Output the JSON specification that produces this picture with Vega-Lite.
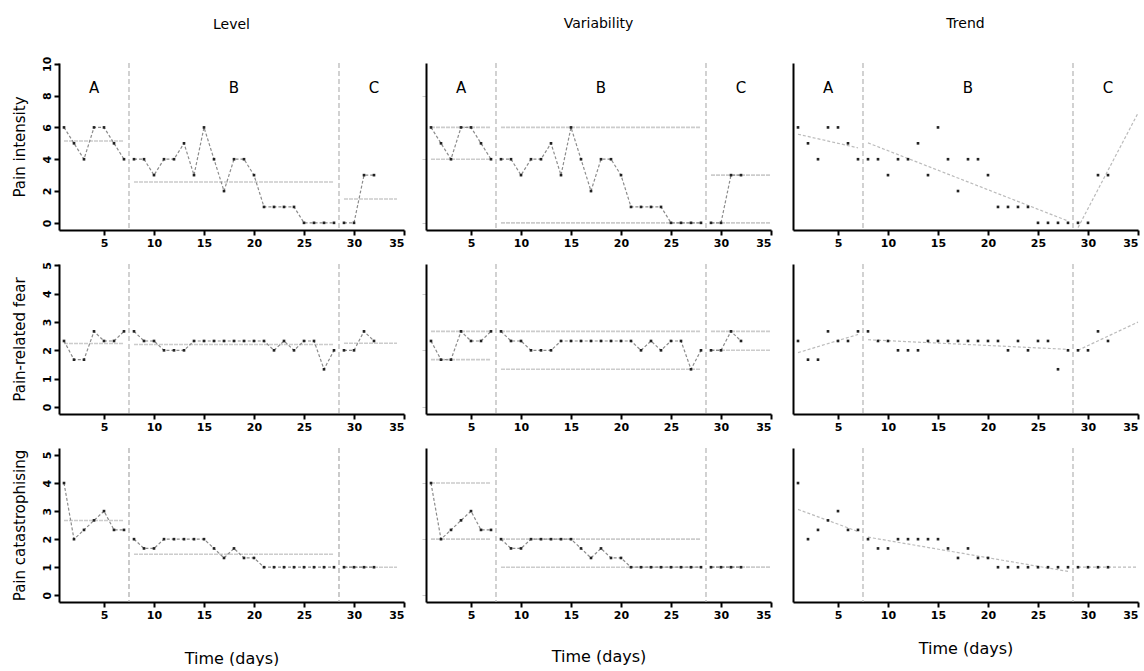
{
"$schema":"https://vega.github.io/schema/vega-lite/v6.json",
"padding":{"left":11,"top":17,"right":0,"bottom":0},
"bounds":"flush",
"columns":3,
"spacing":{"row":34,"column":22},
"config":{"view":{"stroke":null},"font":"DejaVu Sans",
 "axis":{"domainColor":"#000","domainWidth":2,"tickColor":"#000","tickWidth":2,"tickSize":5,"grid":false,"labelFont":"DejaVu Sans","labelFontSize":11,"labelFontWeight":"bold","labelColor":"#000","titleFont":"DejaVu Sans","titleFontSize":15,"titleFontWeight":"normal","titleColor":"#000","labelOverlap":false},
 "title":{"font":"DejaVu Sans","fontSize":14,"fontWeight":"normal","color":"#000","anchor":"middle","offset":31}},
"datasets":{
"changes":[{"x":7.5},{"x":28.5}],
"phases":[{"phase":"A","start":1,"end":7,"lend":7,"mid":4},{"phase":"B","start":8,"end":28,"lend":28,"mid":18},{"phase":"C","start":29,"end":35,"lend":34.3,"mid":32}],
"pts":[
{"m":"int","day":1,"value":6,"phase":"A"},{"m":"int","day":2,"value":5,"phase":"A"},{"m":"int","day":3,"value":4,"phase":"A"},{"m":"int","day":4,"value":6,"phase":"A"},{"m":"int","day":5,"value":6,"phase":"A"},{"m":"int","day":6,"value":5,"phase":"A"},{"m":"int","day":7,"value":4,"phase":"A"},
{"m":"int","day":8,"value":4,"phase":"B"},{"m":"int","day":9,"value":4,"phase":"B"},{"m":"int","day":10,"value":3,"phase":"B"},{"m":"int","day":11,"value":4,"phase":"B"},{"m":"int","day":12,"value":4,"phase":"B"},{"m":"int","day":13,"value":5,"phase":"B"},{"m":"int","day":14,"value":3,"phase":"B"},{"m":"int","day":15,"value":6,"phase":"B"},{"m":"int","day":16,"value":4,"phase":"B"},{"m":"int","day":17,"value":2,"phase":"B"},{"m":"int","day":18,"value":4,"phase":"B"},{"m":"int","day":19,"value":4,"phase":"B"},{"m":"int","day":20,"value":3,"phase":"B"},{"m":"int","day":21,"value":1,"phase":"B"},{"m":"int","day":22,"value":1,"phase":"B"},{"m":"int","day":23,"value":1,"phase":"B"},{"m":"int","day":24,"value":1,"phase":"B"},{"m":"int","day":25,"value":0,"phase":"B"},{"m":"int","day":26,"value":0,"phase":"B"},{"m":"int","day":27,"value":0,"phase":"B"},{"m":"int","day":28,"value":0,"phase":"B"},
{"m":"int","day":29,"value":0,"phase":"C"},{"m":"int","day":30,"value":0,"phase":"C"},{"m":"int","day":31,"value":3,"phase":"C"},{"m":"int","day":32,"value":3,"phase":"C"},
{"m":"fear","day":1,"value":2.33,"phase":"A"},{"m":"fear","day":2,"value":1.67,"phase":"A"},{"m":"fear","day":3,"value":1.67,"phase":"A"},{"m":"fear","day":4,"value":2.67,"phase":"A"},{"m":"fear","day":5,"value":2.33,"phase":"A"},{"m":"fear","day":6,"value":2.33,"phase":"A"},{"m":"fear","day":7,"value":2.67,"phase":"A"},
{"m":"fear","day":8,"value":2.67,"phase":"B"},{"m":"fear","day":9,"value":2.33,"phase":"B"},{"m":"fear","day":10,"value":2.33,"phase":"B"},{"m":"fear","day":11,"value":2,"phase":"B"},{"m":"fear","day":12,"value":2,"phase":"B"},{"m":"fear","day":13,"value":2,"phase":"B"},{"m":"fear","day":14,"value":2.33,"phase":"B"},{"m":"fear","day":15,"value":2.33,"phase":"B"},{"m":"fear","day":16,"value":2.33,"phase":"B"},{"m":"fear","day":17,"value":2.33,"phase":"B"},{"m":"fear","day":18,"value":2.33,"phase":"B"},{"m":"fear","day":19,"value":2.33,"phase":"B"},{"m":"fear","day":20,"value":2.33,"phase":"B"},{"m":"fear","day":21,"value":2.33,"phase":"B"},{"m":"fear","day":22,"value":2,"phase":"B"},{"m":"fear","day":23,"value":2.33,"phase":"B"},{"m":"fear","day":24,"value":2,"phase":"B"},{"m":"fear","day":25,"value":2.33,"phase":"B"},{"m":"fear","day":26,"value":2.33,"phase":"B"},{"m":"fear","day":27,"value":1.33,"phase":"B"},{"m":"fear","day":28,"value":2,"phase":"B"},
{"m":"fear","day":29,"value":2,"phase":"C"},{"m":"fear","day":30,"value":2,"phase":"C"},{"m":"fear","day":31,"value":2.67,"phase":"C"},{"m":"fear","day":32,"value":2.33,"phase":"C"},
{"m":"cat","day":1,"value":4,"phase":"A"},{"m":"cat","day":2,"value":2,"phase":"A"},{"m":"cat","day":3,"value":2.33,"phase":"A"},{"m":"cat","day":4,"value":2.67,"phase":"A"},{"m":"cat","day":5,"value":3,"phase":"A"},{"m":"cat","day":6,"value":2.33,"phase":"A"},{"m":"cat","day":7,"value":2.33,"phase":"A"},
{"m":"cat","day":8,"value":2,"phase":"B"},{"m":"cat","day":9,"value":1.67,"phase":"B"},{"m":"cat","day":10,"value":1.67,"phase":"B"},{"m":"cat","day":11,"value":2,"phase":"B"},{"m":"cat","day":12,"value":2,"phase":"B"},{"m":"cat","day":13,"value":2,"phase":"B"},{"m":"cat","day":14,"value":2,"phase":"B"},{"m":"cat","day":15,"value":2,"phase":"B"},{"m":"cat","day":16,"value":1.67,"phase":"B"},{"m":"cat","day":17,"value":1.33,"phase":"B"},{"m":"cat","day":18,"value":1.67,"phase":"B"},{"m":"cat","day":19,"value":1.33,"phase":"B"},{"m":"cat","day":20,"value":1.33,"phase":"B"},{"m":"cat","day":21,"value":1,"phase":"B"},{"m":"cat","day":22,"value":1,"phase":"B"},{"m":"cat","day":23,"value":1,"phase":"B"},{"m":"cat","day":24,"value":1,"phase":"B"},{"m":"cat","day":25,"value":1,"phase":"B"},{"m":"cat","day":26,"value":1,"phase":"B"},{"m":"cat","day":27,"value":1,"phase":"B"},{"m":"cat","day":28,"value":1,"phase":"B"},
{"m":"cat","day":29,"value":1,"phase":"C"},{"m":"cat","day":30,"value":1,"phase":"C"},{"m":"cat","day":31,"value":1,"phase":"C"},{"m":"cat","day":32,"value":1,"phase":"C"}
]},
"concat":[
 {"width":345,"height":167,"title":{"text":"Level","offset":24},"layer":[
  {"data":{"name":"changes"},"mark":{"type":"rule","color":"#b4b4b4","strokeDash":[5,3],"strokeWidth":1.2},"encoding":{"x":{"field":"x","type":"quantitative"}}},
  {"data":{"name":"pts"},"transform":[{"filter":"datum.m == 'int'"},{"aggregate":[{"op":"mean","field":"value","as":"mean"}],"groupby":["phase"]},{"lookup":"phase","from":{"data":{"name":"phases"},"key":"phase","fields":["start","lend"]}}],"mark":{"type":"rule","color":"#cccccc","strokeWidth":1.6,"strokeDash":[4,1]},"encoding":{"x":{"field":"start","type":"quantitative"},"x2":{"field":"lend"},"y":{"field":"mean","type":"quantitative","axis":{"values":[0,2,4,6,8,10],"title":"Pain intensity","labelAngle":270,"labelOverlap":false,"labelFlush":false,"titlePadding":14}}}},
  {"data":{"name":"pts"},"transform":[{"filter":"datum.m == 'int'"}],"mark":{"type":"line","color":"#8c8c8c","strokeDash":[3,2],"strokeWidth":1.2},"encoding":{"x":{"field":"day","type":"quantitative","scale":{"domain":[0.5,35],"nice":false,"zero":false},"axis":{"values":[5,10,15,20,25,30,35],"title":null}},"y":{"field":"value","type":"quantitative","scale":{"domain":[-0.45,10.05],"nice":false,"zero":false},"axis":{"values":[0,2,4,6,8,10],"title":"Pain intensity","labelAngle":270,"labelOverlap":false,"labelFlush":false,"titlePadding":14}},"detail":{"field":"phase"}}},
  {"data":{"name":"pts"},"transform":[{"filter":"datum.m == 'int'"}],"mark":{"type":"square","color":"#222","size":7,"opacity":1},"encoding":{"x":{"field":"day","type":"quantitative"},"y":{"field":"value","type":"quantitative","axis":{"values":[0,2,4,6,8,10],"title":"Pain intensity","labelAngle":270,"labelOverlap":false,"labelFlush":false,"titlePadding":14}}}},
  {"data":{"name":"phases"},"mark":{"type":"text","fontSize":15,"color":"#000"},"encoding":{"x":{"field":"mid","type":"quantitative"},"y":{"datum":8.5,"type":"quantitative","axis":{"values":[0,2,4,6,8,10],"title":"Pain intensity","labelAngle":270,"labelOverlap":false,"labelFlush":false,"titlePadding":14}},"text":{"field":"phase"}}}
 ]},
 {"width":345,"height":167,"title":{"text":"Variability"},"layer":[
  {"data":{"name":"changes"},"mark":{"type":"rule","color":"#b4b4b4","strokeDash":[5,3],"strokeWidth":1.2},"encoding":{"x":{"field":"x","type":"quantitative"}}},
  {"data":{"name":"pts"},"transform":[{"filter":"datum.m == 'int'"},{"aggregate":[{"op":"min","field":"value","as":"lo"},{"op":"max","field":"value","as":"hi"}],"groupby":["phase"]},{"lookup":"phase","from":{"data":{"name":"phases"},"key":"phase","fields":["start","end"]}},{"fold":["lo","hi"],"as":["k","v"]}],"mark":{"type":"rule","color":"#cccccc","strokeWidth":1.6,"strokeDash":[4,1]},"encoding":{"x":{"field":"start","type":"quantitative"},"x2":{"field":"end"},"y":{"field":"v","type":"quantitative"}}},
  {"data":{"name":"pts"},"transform":[{"filter":"datum.m == 'int'"}],"mark":{"type":"line","color":"#8c8c8c","strokeDash":[3,2],"strokeWidth":1.2},"encoding":{"x":{"field":"day","type":"quantitative","scale":{"domain":[0.5,35],"nice":false,"zero":false},"axis":{"values":[5,10,15,20,25,30,35],"title":null}},"y":{"field":"value","type":"quantitative","scale":{"domain":[-0.45,10.05],"nice":false,"zero":false},"axis":{"values":[0,2,4,6,8,10],"labels":false,"title":null,"tickColor":"#cccccc","tickSize":4,"tickWidth":1}},"detail":{"field":"phase"}}},
  {"data":{"name":"pts"},"transform":[{"filter":"datum.m == 'int'"}],"mark":{"type":"square","color":"#222","size":7,"opacity":1},"encoding":{"x":{"field":"day","type":"quantitative"},"y":{"field":"value","type":"quantitative"}}},
  {"data":{"name":"phases"},"mark":{"type":"text","fontSize":15,"color":"#000"},"encoding":{"x":{"field":"mid","type":"quantitative"},"y":{"datum":8.5,"type":"quantitative"},"text":{"field":"phase"}}}
 ]},
 {"width":345,"height":167,"title":{"text":"Trend"},"layer":[
  {"data":{"name":"changes"},"mark":{"type":"rule","color":"#b4b4b4","strokeDash":[5,3],"strokeWidth":1.2},"encoding":{"x":{"field":"x","type":"quantitative"}}},
  {"data":{"name":"pts"},"transform":[{"filter":"datum.m == 'int' && datum.phase != 'C'"},{"regression":"value","on":"day","groupby":["phase"]}],"mark":{"type":"line","color":"#bbbbbb","strokeDash":[3,2],"strokeWidth":1.2},"encoding":{"x":{"field":"day","type":"quantitative"},"y":{"field":"value","type":"quantitative"},"detail":{"field":"phase"}}},
  {"data":{"name":"pts"},"transform":[{"filter":"datum.m == 'int' && datum.phase == 'C'"},{"regression":"value","on":"day","extent":[29,35]}],"mark":{"type":"line","color":"#bbbbbb","strokeDash":[3,2],"strokeWidth":1.2},"encoding":{"x":{"field":"day","type":"quantitative"},"y":{"field":"value","type":"quantitative"}}},
  {"data":{"name":"pts"},"transform":[{"filter":"datum.m == 'int'"}],"mark":{"type":"square","color":"#222","size":7,"opacity":1},"encoding":{"x":{"field":"day","type":"quantitative","scale":{"domain":[0.5,35],"nice":false,"zero":false},"axis":{"values":[5,10,15,20,25,30,35],"title":null}},"y":{"field":"value","type":"quantitative","scale":{"domain":[-0.45,10.05],"nice":false,"zero":false},"axis":{"labels":false,"ticks":false,"title":null}}}},
  {"data":{"name":"phases"},"mark":{"type":"text","fontSize":15,"color":"#000"},"encoding":{"x":{"field":"mid","type":"quantitative"},"y":{"datum":8.5,"type":"quantitative"},"text":{"field":"phase"}}}
 ]},
 {"width":345,"height":150,"layer":[
  {"data":{"name":"changes"},"mark":{"type":"rule","color":"#b4b4b4","strokeDash":[5,3],"strokeWidth":1.2},"encoding":{"x":{"field":"x","type":"quantitative"}}},
  {"data":{"name":"pts"},"transform":[{"filter":"datum.m == 'fear'"},{"aggregate":[{"op":"mean","field":"value","as":"mean"}],"groupby":["phase"]},{"lookup":"phase","from":{"data":{"name":"phases"},"key":"phase","fields":["start","lend"]}}],"mark":{"type":"rule","color":"#cccccc","strokeWidth":1.6,"strokeDash":[4,1]},"encoding":{"x":{"field":"start","type":"quantitative"},"x2":{"field":"lend"},"y":{"field":"mean","type":"quantitative","axis":{"values":[0,1,2,3,4,5],"title":"Pain-related fear","labelAngle":270,"labelOverlap":false,"labelFlush":false,"titlePadding":14}}}},
  {"data":{"name":"pts"},"transform":[{"filter":"datum.m == 'fear'"}],"mark":{"type":"line","color":"#8c8c8c","strokeDash":[3,2],"strokeWidth":1.2},"encoding":{"x":{"field":"day","type":"quantitative","scale":{"domain":[0.5,35],"nice":false,"zero":false},"axis":{"values":[5,10,15,20,25,30,35],"title":null}},"y":{"field":"value","type":"quantitative","scale":{"domain":[-0.25,5.05],"nice":false,"zero":false},"axis":{"values":[0,1,2,3,4,5],"title":"Pain-related fear","labelAngle":270,"labelOverlap":false,"labelFlush":false,"titlePadding":14}},"detail":{"field":"phase"}}},
  {"data":{"name":"pts"},"transform":[{"filter":"datum.m == 'fear'"}],"mark":{"type":"square","color":"#222","size":7,"opacity":1},"encoding":{"x":{"field":"day","type":"quantitative"},"y":{"field":"value","type":"quantitative","axis":{"values":[0,1,2,3,4,5],"title":"Pain-related fear","labelAngle":270,"labelOverlap":false,"labelFlush":false,"titlePadding":14}}}}
 ]},
 {"width":345,"height":150,"layer":[
  {"data":{"name":"changes"},"mark":{"type":"rule","color":"#b4b4b4","strokeDash":[5,3],"strokeWidth":1.2},"encoding":{"x":{"field":"x","type":"quantitative"}}},
  {"data":{"name":"pts"},"transform":[{"filter":"datum.m == 'fear'"},{"aggregate":[{"op":"min","field":"value","as":"lo"},{"op":"max","field":"value","as":"hi"}],"groupby":["phase"]},{"lookup":"phase","from":{"data":{"name":"phases"},"key":"phase","fields":["start","end"]}},{"fold":["lo","hi"],"as":["k","v"]}],"mark":{"type":"rule","color":"#cccccc","strokeWidth":1.6,"strokeDash":[4,1]},"encoding":{"x":{"field":"start","type":"quantitative"},"x2":{"field":"end"},"y":{"field":"v","type":"quantitative"}}},
  {"data":{"name":"pts"},"transform":[{"filter":"datum.m == 'fear'"}],"mark":{"type":"line","color":"#8c8c8c","strokeDash":[3,2],"strokeWidth":1.2},"encoding":{"x":{"field":"day","type":"quantitative","scale":{"domain":[0.5,35],"nice":false,"zero":false},"axis":{"values":[5,10,15,20,25,30,35],"title":null}},"y":{"field":"value","type":"quantitative","scale":{"domain":[-0.25,5.05],"nice":false,"zero":false},"axis":{"values":[0,1,2,3,4,5],"labels":false,"title":null,"tickColor":"#cccccc","tickSize":4,"tickWidth":1}},"detail":{"field":"phase"}}},
  {"data":{"name":"pts"},"transform":[{"filter":"datum.m == 'fear'"}],"mark":{"type":"square","color":"#222","size":7,"opacity":1},"encoding":{"x":{"field":"day","type":"quantitative"},"y":{"field":"value","type":"quantitative"}}}
 ]},
 {"width":345,"height":150,"layer":[
  {"data":{"name":"changes"},"mark":{"type":"rule","color":"#b4b4b4","strokeDash":[5,3],"strokeWidth":1.2},"encoding":{"x":{"field":"x","type":"quantitative"}}},
  {"data":{"name":"pts"},"transform":[{"filter":"datum.m == 'fear' && datum.phase != 'C'"},{"regression":"value","on":"day","groupby":["phase"]}],"mark":{"type":"line","color":"#bbbbbb","strokeDash":[3,2],"strokeWidth":1.2},"encoding":{"x":{"field":"day","type":"quantitative"},"y":{"field":"value","type":"quantitative"},"detail":{"field":"phase"}}},
  {"data":{"name":"pts"},"transform":[{"filter":"datum.m == 'fear' && datum.phase == 'C'"},{"regression":"value","on":"day","extent":[29,35]}],"mark":{"type":"line","color":"#bbbbbb","strokeDash":[3,2],"strokeWidth":1.2},"encoding":{"x":{"field":"day","type":"quantitative"},"y":{"field":"value","type":"quantitative"}}},
  {"data":{"name":"pts"},"transform":[{"filter":"datum.m == 'fear'"}],"mark":{"type":"square","color":"#222","size":7,"opacity":1},"encoding":{"x":{"field":"day","type":"quantitative","scale":{"domain":[0.5,35],"nice":false,"zero":false},"axis":{"values":[5,10,15,20,25,30,35],"title":null}},"y":{"field":"value","type":"quantitative","scale":{"domain":[-0.25,5.05],"nice":false,"zero":false},"axis":{"labels":false,"ticks":false,"title":null}}}}
 ]},
 {"width":345,"height":154,"layer":[
  {"data":{"name":"changes"},"mark":{"type":"rule","color":"#a8a8a8","strokeDash":[5,3],"strokeWidth":1.2},"encoding":{"x":{"field":"x","type":"quantitative"}}},
  {"data":{"name":"pts"},"transform":[{"filter":"datum.m == 'cat'"},{"aggregate":[{"op":"mean","field":"value","as":"mean"}],"groupby":["phase"]},{"lookup":"phase","from":{"data":{"name":"phases"},"key":"phase","fields":["start","lend"]}}],"mark":{"type":"rule","color":"#cccccc","strokeWidth":1.6,"strokeDash":[4,1]},"encoding":{"x":{"field":"start","type":"quantitative"},"x2":{"field":"lend"},"y":{"field":"mean","type":"quantitative","axis":{"values":[0,1,2,3,4,5],"title":"Pain catastrophising","labelAngle":270,"labelOverlap":false,"labelFlush":false,"titlePadding":14}}}},
  {"data":{"name":"pts"},"transform":[{"filter":"datum.m == 'cat'"}],"mark":{"type":"line","color":"#8c8c8c","strokeDash":[3,2],"strokeWidth":1.2},"encoding":{"x":{"field":"day","type":"quantitative","scale":{"domain":[0.5,35],"nice":false,"zero":false},"axis":{"values":[5,10,15,20,25,30,35],"title":"Time (days)","titleFontSize":16,"titlePadding":30}},"y":{"field":"value","type":"quantitative","scale":{"domain":[-0.24,5.25],"nice":false,"zero":false},"axis":{"values":[0,1,2,3,4,5],"title":"Pain catastrophising","labelAngle":270,"labelOverlap":false,"labelFlush":false,"titlePadding":14}},"detail":{"field":"phase"}}},
  {"data":{"name":"pts"},"transform":[{"filter":"datum.m == 'cat'"}],"mark":{"type":"square","color":"#222","size":7,"opacity":1},"encoding":{"x":{"field":"day","type":"quantitative"},"y":{"field":"value","type":"quantitative","axis":{"values":[0,1,2,3,4,5],"title":"Pain catastrophising","labelAngle":270,"labelOverlap":false,"labelFlush":false,"titlePadding":14}}}}
 ]},
 {"width":345,"height":154,"layer":[
  {"data":{"name":"changes"},"mark":{"type":"rule","color":"#b4b4b4","strokeDash":[5,3],"strokeWidth":1.2},"encoding":{"x":{"field":"x","type":"quantitative"}}},
  {"data":{"name":"pts"},"transform":[{"filter":"datum.m == 'cat'"},{"aggregate":[{"op":"min","field":"value","as":"lo"},{"op":"max","field":"value","as":"hi"}],"groupby":["phase"]},{"lookup":"phase","from":{"data":{"name":"phases"},"key":"phase","fields":["start","end"]}},{"fold":["lo","hi"],"as":["k","v"]}],"mark":{"type":"rule","color":"#cccccc","strokeWidth":1.6,"strokeDash":[4,1]},"encoding":{"x":{"field":"start","type":"quantitative"},"x2":{"field":"end"},"y":{"field":"v","type":"quantitative"}}},
  {"data":{"name":"pts"},"transform":[{"filter":"datum.m == 'cat'"}],"mark":{"type":"line","color":"#8c8c8c","strokeDash":[3,2],"strokeWidth":1.2},"encoding":{"x":{"field":"day","type":"quantitative","scale":{"domain":[0.5,35],"nice":false,"zero":false},"axis":{"values":[5,10,15,20,25,30,35],"title":"Time (days)","titleFontSize":16,"titlePadding":28}},"y":{"field":"value","type":"quantitative","scale":{"domain":[-0.24,5.25],"nice":false,"zero":false},"axis":{"values":[0,1,2,3,4,5],"labels":false,"title":null,"tickColor":"#cccccc","tickSize":4,"tickWidth":1}},"detail":{"field":"phase"}}},
  {"data":{"name":"pts"},"transform":[{"filter":"datum.m == 'cat'"}],"mark":{"type":"square","color":"#222","size":7,"opacity":1},"encoding":{"x":{"field":"day","type":"quantitative"},"y":{"field":"value","type":"quantitative"}}}
 ]},
 {"width":345,"height":154,"layer":[
  {"data":{"name":"changes"},"mark":{"type":"rule","color":"#b4b4b4","strokeDash":[5,3],"strokeWidth":1.2},"encoding":{"x":{"field":"x","type":"quantitative"}}},
  {"data":{"name":"pts"},"transform":[{"filter":"datum.m == 'cat' && datum.phase != 'C'"},{"regression":"value","on":"day","groupby":["phase"]}],"mark":{"type":"line","color":"#bbbbbb","strokeDash":[3,2],"strokeWidth":1.2},"encoding":{"x":{"field":"day","type":"quantitative"},"y":{"field":"value","type":"quantitative"},"detail":{"field":"phase"}}},
  {"data":{"name":"pts"},"transform":[{"filter":"datum.m == 'cat' && datum.phase == 'C'"},{"regression":"value","on":"day","extent":[29,35]}],"mark":{"type":"line","color":"#bbbbbb","strokeDash":[3,2],"strokeWidth":1.2},"encoding":{"x":{"field":"day","type":"quantitative"},"y":{"field":"value","type":"quantitative"}}},
  {"data":{"name":"pts"},"transform":[{"filter":"datum.m == 'cat'"}],"mark":{"type":"square","color":"#222","size":7,"opacity":1},"encoding":{"x":{"field":"day","type":"quantitative","scale":{"domain":[0.5,35],"nice":false,"zero":false},"axis":{"values":[5,10,15,20,25,30,35],"title":"Time (days)","titleFontSize":16,"titlePadding":20}},"y":{"field":"value","type":"quantitative","scale":{"domain":[-0.24,5.25],"nice":false,"zero":false},"axis":{"labels":false,"ticks":false,"title":null}}}}
 ]}
]
}
